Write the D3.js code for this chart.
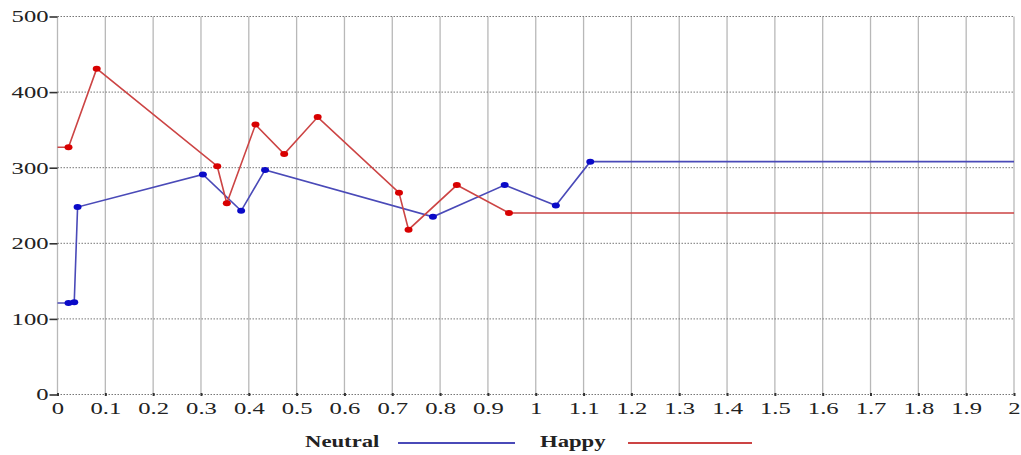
<!DOCTYPE html>
<html><head><meta charset="utf-8">
<script src="https://cdn.jsdelivr.net/npm/d3@7"></script>
<style>body{margin:0;background:#fff;}svg{display:block;} text{font-family:"Liberation Serif","DejaVu Serif","Times New Roman",serif;}</style>
</head><body>
<svg id="chart" width="1021" height="455"></svg>
<script>
const xTicks = [0,0.1,0.2,0.3,0.4,0.5,0.6,0.7,0.8,0.9,1,1.1,1.2,1.3,1.4,1.5,1.6,1.7,1.8,1.9,2];
const yTicks = [0,100,200,300,400,500];
const neutralX = [0, 0.023, 0.035, 0.042, 0.304, 0.384, 0.434, 0.785, 0.935, 1.042, 1.114, 2];
const neutralY = [121, 121, 122, 248, 291, 243, 297, 235, 277, 250, 308, 308];
const happyX = [0, 0.023, 0.082, 0.334, 0.354, 0.414, 0.474, 0.544, 0.714, 0.734, 0.835, 0.944, 2];
const happyY = [327, 327, 431, 302, 253, 357, 318, 367, 267, 218, 277, 240, 240];
const seriesNames = ["Neutral", "Happy"];

const FONT = "'Liberation Serif','DejaVu Serif','Times New Roman',serif";
const SX = 1.45;
const svg = d3.select("#chart");
const x = d3.scaleLinear().domain([0,2]).range([57.5,1014]);
const y = d3.scaleLinear().domain([0,500]).range([394.5,16.5]);

// vertical grid
svg.append("g").selectAll("line").data(xTicks).join("line")
  .attr("x1", d=>x(d)).attr("x2", d=>x(d)).attr("y1", y(500)).attr("y2", y(0))
  .attr("stroke", "#b8b8b8").attr("stroke-width", 1.3);
// horizontal grid
svg.append("g").selectAll("line").data(yTicks).join("line")
  .attr("x1", x(0)).attr("x2", x(2)).attr("y1", d=>y(d)).attr("y2", d=>y(d))
  .attr("stroke", "#777").attr("stroke-width", 1).attr("stroke-dasharray", "1.5,1.5");

// y axis
const yAx = svg.append("g").attr("transform", `translate(${x(0)},0)`)
  .call(d3.axisLeft(y).tickValues(yTicks).tickFormat(d3.format("d")).tickSize(8).tickPadding(1));
yAx.attr("font-family", null);
yAx.select(".domain").remove();
yAx.selectAll(".tick line").attr("stroke", "#333").attr("stroke-width", 1.6);
yAx.selectAll("text").style("font-family", FONT).attr("font-size", 17).attr("fill", "#222")
  .attr("x", -9/SX).attr("transform", `scale(${SX},1)`);

// x axis
const xAx = svg.append("g").attr("transform", `translate(0,${y(0)})`)
  .call(d3.axisBottom(x).tickValues(xTicks).tickFormat(d=>String(d)).tickSize(3).tickPadding(4));
xAx.attr("font-family", null);
xAx.select(".domain").remove();
xAx.selectAll(".tick line").attr("stroke", "#333").attr("stroke-width", 2).attr("transform","translate(0,-1.5)");
xAx.selectAll("text").style("font-family", FONT).attr("font-size", 17).attr("fill", "#222")
  .attr("transform", `scale(${SX},1)`);

const line = d3.line().x(d=>x(d[0])).y(d=>y(d[1]));
const series = [
  {name: seriesNames[0], pts: neutralX.map((v,i)=>[v, neutralY[i]]), line: "#4a4ab8", mark: "#0a0ac8"},
  {name: seriesNames[1], pts: happyX.map((v,i)=>[v, happyY[i]]), line: "#cc4444", mark: "#d80000"}
];
series.forEach(s=>{
  svg.append("path").datum(s.pts).attr("d", line).attr("fill","none")
    .attr("stroke", s.line).attr("stroke-width", 1.6);
  svg.append("g").selectAll("ellipse").data(s.pts.filter(p=>p[0]>0 && p[0]<2)).join("ellipse")
    .attr("cx", d=>x(d[0])).attr("cy", d=>y(d[1])).attr("rx", 4).attr("ry", 3)
    .attr("fill", s.mark);
});

// legend
const leg = [{tx:305, x1:398, x2:515}, {tx:540, x1:628, x2:752}];
series.forEach((s,i)=>{
  svg.append("text").attr("transform", `translate(${leg[i].tx},447) scale(1.42,1)`).text(s.name)
    .style("font-family", FONT).attr("font-weight","bold").attr("font-size",16).attr("fill","#222");
  svg.append("line").attr("x1", leg[i].x1).attr("x2", leg[i].x2).attr("y1", 443).attr("y2", 443)
    .attr("stroke", s.line).attr("stroke-width", 1.8);
});
</script>
</body></html>
